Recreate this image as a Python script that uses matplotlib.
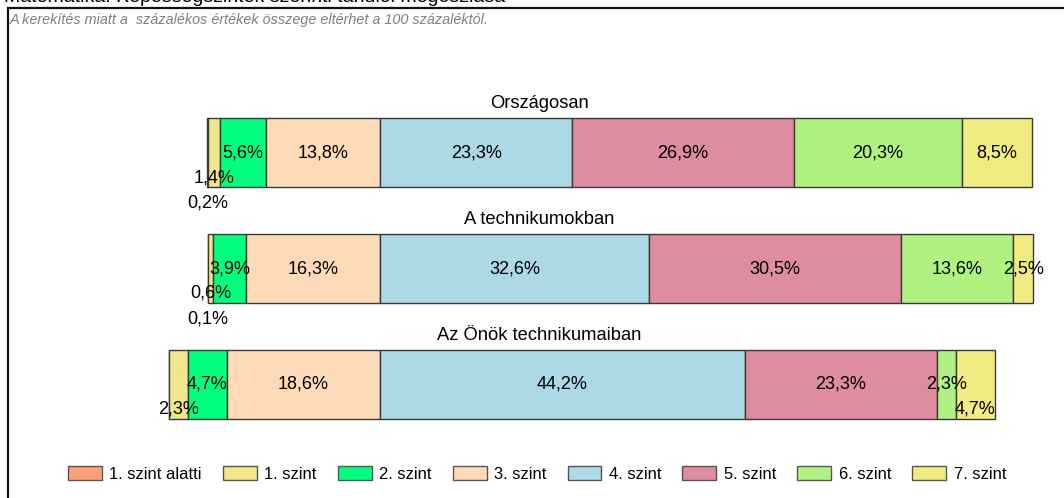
"""Stacked level distribution, centred on the 3./4. szint boundary (three groups)."""
import numpy as np
import matplotlib
matplotlib.use("Agg")
import matplotlib.pyplot as plt
from matplotlib.patches import Patch

plt.rcParams["font.family"] = ["Liberation Sans", "DejaVu Sans"]

# ---- data ----
groups = ["Országosan", "A technikumokban", "Az Önök technikumaiban"]
levels = ["1. szint alatti", "1. szint", "2. szint", "3. szint",
          "4. szint", "5. szint", "6. szint", "7. szint"]
orszagos = [0.2, 1.4, 5.6, 13.8, 23.3, 26.9, 20.3, 8.5]
technikum = [0.1, 0.6, 3.9, 16.3, 32.6, 30.5, 13.6, 2.5]
onok = [0.0, 2.3, 4.7, 18.6, 44.2, 23.3, 2.3, 4.7]
n_below = 4   # levels drawn to the left of zero (1. szint alatti .. 3. szint)

colors = ["#FFA07A", "#F0E68C", "#00FF7F", "#FFDAB9",
          "#ADD8E6", "#DE8C9E", "#B0F282", "#F0EC82"]
EDGE = "#3A3A3A"
W, H = 1064, 498

fig = plt.figure(figsize=(W/100, H/100), dpi=100)
ax = fig.add_axes([8/W, 0, 1-8/W, (H-8)/H])

px = 8.25                      # pixels per percent
x0 = 380                       # pixel of zero line
ax.set_xlim((8-x0)/px, (W-x0)/px)
step = 115.5                   # pixel distance between bars
top = -(153-8)/step
ax.set_ylim(top+(H-8)/step, top)
bh = 69/step

drop = 25/step
for i, vals in enumerate([orszagos, technikum, onok]):
    vals = np.array(vals)
    lefts = np.empty(len(vals))
    lefts[:n_below] = -np.cumsum(vals[:n_below][::-1])[::-1]
    lefts[n_below:] = np.concatenate([[0], np.cumsum(vals[n_below:])[:-1]])
    ax.barh(i, vals, left=lefts, height=bh, color=colors,
            edgecolor=EDGE, linewidth=1.0, zorder=2)
    # labels: small neighbouring segments get stepped downwards
    for side in (range(n_below-1, -1, -1), range(n_below, len(vals))):
        lvl = 0; prev = None
        for k in side:
            v = vals[k]
            if v <= 0:
                continue
            if prev is not None and prev < 6:
                lvl += 1
            ax.text(lefts[k]+v/2, i+lvl*drop, f"{v:.1f}%".replace(".", ","),
                    ha="center", va="center", fontsize=13, color="black", zorder=3)
            prev = v
    ax.text(19.3, i-bh/2-10/step, groups[i], ha="center", va="baseline",
            fontsize=13.2, color="black")

ax.set_xticks([]); ax.set_yticks([])
for s in ("right", "bottom"):
    ax.spines[s].set_visible(False)
for s in ("left", "top"):
    ax.spines[s].set_linewidth(1.6); ax.spines[s].set_color("#111111")

fig.text(10/W, 1-20/H, "A kerekítés miatt a  százalékos értékek összege eltérhet a 100 százaléktól.",
         style="italic", color="#808080", fontsize=10.4, va="center", ha="left")
fig.text(4/W, 1-1.5/H, "Matematika: Képességszintek szerinti tanulói megoszlása",
         fontsize=14, va="baseline", ha="left", color="black")

handles = [Patch(facecolor=c, edgecolor="#555555", linewidth=1.0) for c in colors]
fig.legend(handles, levels, ncol=8, loc="center", bbox_to_anchor=(537/W, 1-474/H),
           frameon=False, fontsize=11.9, handlelength=2.05, handleheight=0.85,
           handletextpad=0.45, columnspacing=1.28)

fig.savefig("out.png", dpi=100)
